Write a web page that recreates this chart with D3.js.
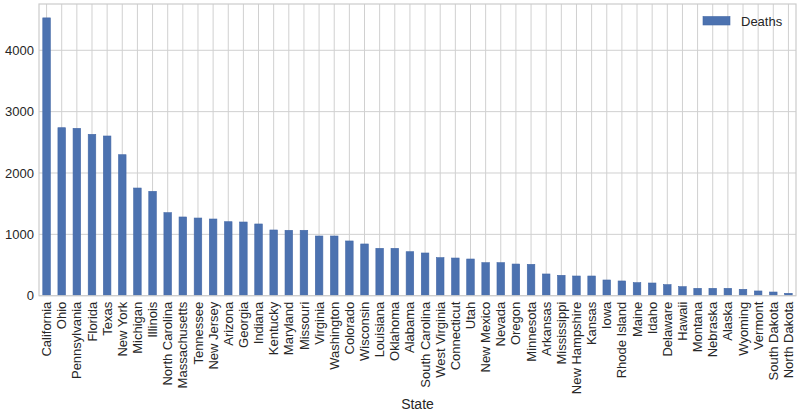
<!DOCTYPE html>
<html>
<head>
<meta charset="utf-8">
<script src="https://cdn.jsdelivr.net/npm/d3@7/dist/d3.min.js"></script>
<style>
  body { margin: 0; background: #fff; }
  svg { display: block; font-family: "Liberation Sans", Arial, sans-serif; }
</style>
</head>
<body>
<svg id="chart" width="800" height="417"></svg>
<script>
const states = ["California","Ohio","Pennsylvania","Florida","Texas","New York","Michigan","Illinois","North Carolina","Massachusetts","Tennessee","New Jersey","Arizona","Georgia","Indiana","Kentucky","Maryland","Missouri","Virginia","Washington","Colorado","Wisconsin","Louisiana","Oklahoma","Alabama","South Carolina","West Virginia","Connecticut","Utah","New Mexico","Nevada","Oregon","Minnesota","Arkansas","Mississippi","New Hampshire","Kansas","Iowa","Rhode Island","Maine","Idaho","Delaware","Hawaii","Montana","Nebraska","Alaska","Wyoming","Vermont","South Dakota","North Dakota"];
const deaths = [4528,2738,2728,2630,2603,2298,1755,1701,1353,1283,1266,1250,1206,1201,1169,1071,1066,1066,973,973,892,843,772,772,717,696,620,614,598,538,538,516,511,354,332,321,321,256,240,212,207,180,147,120,120,120,104,77,60,39];
const yTicks = [0,1000,2000,3000,4000];
const seriesName = "Deaths";
const xLabel = "State";

const svg = d3.select("#chart");
const m = {left: 39, right: 796, top: 4, bottom: 295.7};
const grid = "#d0d0d0";

const x = d3.scaleBand().domain(states).range([m.left, m.right]).paddingInner(0).paddingOuter(0);
const y = d3.scaleLinear().domain([0, d3.max(deaths) * 1.05]).range([m.bottom, m.top]);

// gridlines
const g = svg.append("g");
g.selectAll("line.h").data(yTicks).enter().append("line")
  .attr("x1", m.left).attr("x2", m.right)
  .attr("y1", d => y(d)).attr("y2", d => y(d))
  .attr("stroke", grid).attr("stroke-width", 1);
g.selectAll("line.v").data(states).enter().append("line")
  .attr("x1", d => x(d) + x.bandwidth()/2).attr("x2", d => x(d) + x.bandwidth()/2)
  .attr("y1", m.top).attr("y2", m.bottom)
  .attr("stroke", grid).attr("stroke-width", 1);

// bars
const bw = x.bandwidth() * 0.5;
svg.append("g").selectAll("rect").data(states).enter().append("rect")
  .attr("x", (d) => x(d) + x.bandwidth()/2 - bw/2)
  .attr("width", bw)
  .attr("y", (d, i) => y(deaths[i]))
  .attr("height", (d, i) => y(0) - y(deaths[i]))
  .attr("fill", "#4c72b0")
  .attr("stroke", "#4468a6").attr("stroke-width", 0.6);

// spines
svg.append("rect").attr("x", m.left).attr("y", m.top)
  .attr("width", m.right - m.left).attr("height", m.bottom - m.top)
  .attr("fill", "none").attr("stroke", "#cccccc").attr("stroke-width", 1.2);

// y axis
const yAxis = d3.axisLeft(y).tickValues(yTicks).tickSize(0).tickPadding(5).tickFormat(d3.format("d"));
const ya = svg.append("g").attr("transform", `translate(${m.left},0)`).call(yAxis);
ya.select(".domain").remove();
ya.selectAll("text").attr("font-size", 13).attr("fill", "#262626")
  .attr("font-family", "Liberation Sans, Arial, sans-serif");

// x axis
const xAxis = d3.axisBottom(x).tickSize(0).tickPadding(0);
const xa = svg.append("g").attr("transform", `translate(0,${m.bottom})`).call(xAxis);
xa.select(".domain").remove();
xa.selectAll("text")
  .attr("font-size", 13).attr("fill", "#262626")
  .attr("font-family", "Liberation Sans, Arial, sans-serif")
  .attr("text-anchor", "end")
  .attr("dy", "0.35em")
  .attr("transform", "translate(0,6) rotate(-90)")
  .attr("x", 0).attr("y", 0);

// x label
svg.append("text").attr("x", (m.left + m.right)/2).attr("y", 409)
  .attr("text-anchor", "middle").attr("font-size", 14).attr("fill", "#262626")
  .text(xLabel);

// legend
const lg = svg.append("g");
lg.append("rect").attr("x", 703).attr("y", 16.5).attr("width", 27).attr("height", 8.5)
  .attr("fill", "#4c72b0").attr("stroke", "#4468a6").attr("stroke-width", 0.6);
lg.append("text").attr("x", 741).attr("y", 25.5).attr("font-size", 13).attr("fill", "#262626")
  .text(seriesName);
</script>
</body>
</html>
